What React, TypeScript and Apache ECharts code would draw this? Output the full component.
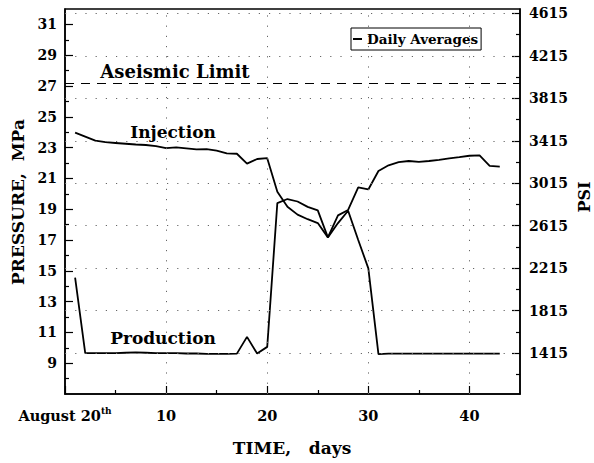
import React, { useEffect, useRef } from 'react';
import * as echarts from 'echarts';

const days = [1, 2, 3, 4, 5, 6, 7, 8, 9, 10, 11, 12, 13, 14, 15, 16, 17, 18, 19, 20, 21, 22, 23, 24, 25, 26, 27, 28, 29, 30, 31, 32, 33, 34, 35, 36, 37, 38, 39, 40, 41, 42, 43];
const injectionMPa = [23.97, 23.71, 23.45, 23.35, 23.3, 23.25, 23.2, 23.17, 23.1, 22.97, 23.02, 22.95, 22.88, 22.9, 22.8, 22.63, 22.6, 21.96, 22.26, 22.31, 20.14, 19.16, 18.65, 18.35, 18.1, 17.17, 18.6, 18.95, 20.42, 20.28, 21.48, 21.85, 22.05, 22.13, 22.07, 22.13, 22.2, 22.3, 22.38, 22.47, 22.5, 21.81, 21.77];
const productionMPa = [14.55, 9.65, 9.65, 9.65, 9.65, 9.68, 9.7, 9.68, 9.65, 9.65, 9.65, 9.63, 9.63, 9.6, 9.6, 9.6, 9.62, 10.71, 9.63, 10.06, 19.4, 19.66, 19.5, 19.15, 18.92, 17.17, 18.1, 18.9, 17.0, 15.16, 9.59, 9.62, 9.62, 9.62, 9.62, 9.62, 9.62, 9.62, 9.62, 9.62, 9.62, 9.62, 9.62];
const aseismicLimitMPa = 27.2;

const mpaTicks = [9, 11, 13, 15, 17, 19, 21, 23, 25, 27, 29, 31];
const mpaMinorTicks = [8, 10, 12, 14, 16, 18, 20, 22, 24, 26, 28, 30];
const psiTicks = [1415, 1815, 2215, 2615, 3015, 3415, 3815, 4215, 4615];
const psiMinorTicks = [1215, 1615, 2015, 2415, 2815, 3215, 3615, 4015, 4415];
const dayTicks = [0, 10, 20, 30, 40];
const dayMinorTicks = [5, 15, 25, 35];

const MPA_MIN = 7;
const MPA_MAX = 32;
const DAY_MIN = 0;
const DAY_MAX = 45;
const toPsi = (mpa: number) => mpa * 145.04 + 14.7;

const FONT = 'DejaVu Serif';

export default function App() {
  const ref = useRef<HTMLDivElement>(null);
  useEffect(() => {
    document.body.style.margin = '0';
    const chart = echarts.init(ref.current!, null, { renderer: 'svg' });
    const labelStyle = { color: '#000', fontFamily: FONT, fontWeight: 'bold' as const, fontSize: 14 };
    const gridLineStyle = { color: '#666', width: 1, type: [1.2, 9] };
    const injData = days.map((d, i) => [d, injectionMPa[i]]);
    const prodData = days.map((d, i) => [d, productionMPa[i]]);
    const psiGrid = psiTicks.map((p) => ({ yAxis: p }));
    const dayGrid = dayTicks.filter((d) => d > DAY_MIN).map((d) => ({ xAxis: d }));
    chart.setOption({
      animation: false,
      backgroundColor: '#fff',
      grid: { left: 65, right: 74, top: 9, bottom: 69, show: true, borderColor: '#000', borderWidth: 1.5 },
      legend: {
        data: ['Daily Averages'],
        left: 351,
        top: 28,
        padding: [4, 3, 4, 2],
        borderColor: '#000',
        borderWidth: 1,
        backgroundColor: '#fff',
        icon: 'rect',
        itemWidth: 9,
        itemHeight: 2,
        textStyle: { color: '#000', fontFamily: FONT, fontWeight: 'bold', fontSize: 13.5 },
      },
      xAxis: [
        {
          type: 'value', min: DAY_MIN, max: DAY_MAX, position: 'bottom',
          axisLine: { show: true, lineStyle: { color: '#000', width: 1.5 } },
          axisTick: { show: true, inside: true, length: 8, customValues: dayTicks, lineStyle: { color: '#000', width: 1.2 } },
          axisLabel: {
            customValues: dayTicks, margin: 12,
            formatter: (v: number) => (v === 0 ? '{a|August 20}{s|th}' : '{a|' + v + '}'),
            rich: {
              a: { ...labelStyle, fontSize: 14.5, lineHeight: 18 },
              s: { ...labelStyle, fontSize: 9, lineHeight: 18, verticalAlign: 'top', padding: [0, 0, 8, 0] },
            },
          },
          splitLine: { show: false },
        },
        {
          type: 'value', min: DAY_MIN, max: DAY_MAX, position: 'bottom',
          axisLine: { show: false },
          axisTick: { show: true, inside: true, length: 4, customValues: dayMinorTicks, lineStyle: { color: '#000', width: 1.2 } },
          axisLabel: { show: false },
          splitLine: { show: false },
        },
      ],
      yAxis: [
        {
          type: 'value', min: MPA_MIN, max: MPA_MAX, position: 'left',
          axisLine: { show: true, lineStyle: { color: '#000', width: 1.5 } },
          axisTick: { show: true, inside: true, length: 8, customValues: mpaTicks, lineStyle: { color: '#000', width: 1.2 } },
          axisLabel: { ...labelStyle, customValues: mpaTicks, margin: 8 },
          splitLine: { show: false },
        },
        {
          type: 'value', min: MPA_MIN, max: MPA_MAX, position: 'left',
          axisLine: { show: false },
          axisTick: { show: true, inside: true, length: 4, customValues: mpaMinorTicks, lineStyle: { color: '#000', width: 1.2 } },
          axisLabel: { show: false },
          splitLine: { show: false },
        },
        {
          type: 'value', min: toPsi(MPA_MIN), max: toPsi(MPA_MAX), position: 'right',
          axisLine: { show: true, lineStyle: { color: '#000', width: 1.5 } },
          axisTick: { show: true, inside: true, length: 8, customValues: psiTicks, lineStyle: { color: '#000', width: 1.2 } },
          axisLabel: { ...labelStyle, customValues: psiTicks, margin: 9, formatter: (v: number) => String(v) },
          splitLine: { show: false },
        },
        {
          type: 'value', min: toPsi(MPA_MIN), max: toPsi(MPA_MAX), position: 'right',
          axisLine: { show: false },
          axisTick: { show: true, inside: true, length: 4, customValues: psiMinorTicks, lineStyle: { color: '#000', width: 1.2 } },
          axisLabel: { show: false },
          splitLine: { show: false },
        },
      ],
      series: [
        {
          name: 'grid', type: 'line', xAxisIndex: 0, yAxisIndex: 2, data: [], silent: true,
          markLine: {
            silent: true, symbol: ['none', 'none'], label: { show: false },
            lineStyle: gridLineStyle,
            data: [...psiGrid, ...dayGrid],
          },
        },
        {
          name: 'Daily Averages', type: 'line', xAxisIndex: 0, yAxisIndex: 0,
          data: injData, symbol: 'none', smooth: false,
          lineStyle: { color: '#000', width: 1.8 }, itemStyle: { color: '#000' },
          markLine: {
            silent: true, symbol: ['none', 'none'], label: { show: false },
            lineStyle: { color: '#000', width: 1.2, type: [9, 7] },
            data: [{ yAxis: aseismicLimitMPa }],
          },
        },
        {
          name: 'Daily Averages', type: 'line', xAxisIndex: 0, yAxisIndex: 0,
          data: prodData, symbol: 'none', smooth: false,
          lineStyle: { color: '#000', width: 1.8 }, itemStyle: { color: '#000' },
        },
      ],
      graphic: [
        { type: 'text', x: 175, y: 71, style: { text: 'Aseismic Limit', fill: '#000', font: `bold 18px "${FONT}"`, textAlign: 'center', textVerticalAlign: 'middle' } },
        { type: 'text', x: 173, y: 132, style: { text: 'Injection', fill: '#000', font: `bold 17px "${FONT}"`, textAlign: 'center', textVerticalAlign: 'middle' } },
        { type: 'text', x: 163, y: 338, style: { text: 'Production', fill: '#000', font: `bold 17px "${FONT}"`, textAlign: 'center', textVerticalAlign: 'middle' } },
        { type: 'text', x: 292, y: 448, style: { text: 'TIME,   days', fill: '#000', font: `bold 17px "${FONT}"`, textAlign: 'center', textVerticalAlign: 'middle' } },
        { type: 'text', x: 18, y: 202, rotation: Math.PI / 2, style: { text: 'PRESSURE,  MPa', fill: '#000', font: `bold 17px "${FONT}"`, textAlign: 'center', textVerticalAlign: 'middle' } },
        { type: 'text', x: 584, y: 197, rotation: Math.PI / 2, style: { text: 'PSI', fill: '#000', font: `bold 16px "${FONT}"`, textAlign: 'center', textVerticalAlign: 'middle' } },
      ],
    });
    return () => chart.dispose();
  }, []);
  return <div ref={ref} style={{ position: 'fixed', left: 0, top: 0, width: 594, height: 463 }} />;
}
